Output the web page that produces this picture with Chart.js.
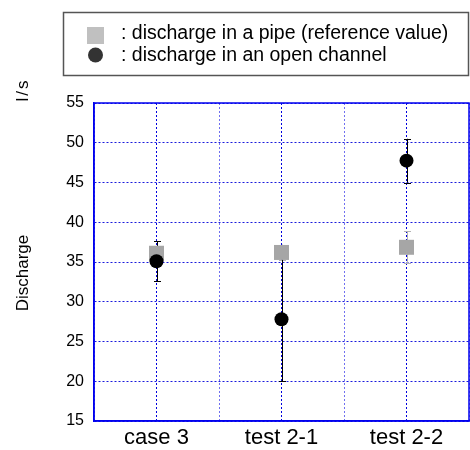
<!DOCTYPE html>
<html>
<head>
<meta charset="utf-8">
<script src="https://cdn.jsdelivr.net/npm/chart.js"></script>
<style>
html,body{margin:0;padding:0;background:#fff;}
#wrap{width:470px;height:450px;}
</style>
</head>
<body>
<div id="wrap"><canvas id="c" width="470" height="450"></canvas></div>
<script>
const categories = ["case 3", "test 2-1", "test 2-2"];
const pipeValues = [36.1, 36.2, 36.85];
const pipeErrors = [1.5, 1.0, 2.0];
const channelValues = [35.1, 27.8, 47.75];
const channelErrors = [2.5, 7.8, 2.75];
const yTicks = [15, 20, 25, 30, 35, 40, 45, 50, 55];
const legendLabels = [": discharge in a pipe (reference value)", ": discharge in an open channel"];
const yTitle = "Discharge";
const yUnit = "l/s";

const FONT = "'Liberation Sans', Arial, sans-serif";

const errorBarPlugin = {
  id: 'errorBars',
  beforeDatasetsDraw(chart) {
    const ctx = chart.ctx;
    const xs = chart.scales.x, ys = chart.scales.y;
    const sets = [
      {vals: pipeValues, errs: pipeErrors, color: '#b4b4b4'},
      {vals: channelValues, errs: channelErrors, color: '#000000'}
    ];
    ctx.save();
    sets.forEach(s => {
      ctx.strokeStyle = s.color;
      ctx.lineWidth = 1;
      s.vals.forEach((v, i) => {
        const x = Math.round(xs.getPixelForValue(i)) + 0.5;
        const y1 = ys.getPixelForValue(v + s.errs[i]);
        const y2 = ys.getPixelForValue(v - s.errs[i]);
        ctx.beginPath();
        ctx.moveTo(x, y1); ctx.lineTo(x, y2);
        ctx.moveTo(x - 3.5, Math.round(y1) + 0.5); ctx.lineTo(x + 3.5, Math.round(y1) + 0.5);
        ctx.moveTo(x - 3.5, Math.round(y2) + 0.5); ctx.lineTo(x + 3.5, Math.round(y2) + 0.5);
        ctx.stroke();
      });
    });
    ctx.restore();
  },
  afterDraw(chart) {
    const ctx = chart.ctx;
    const a = chart.chartArea;
    ctx.save();
    // frame
    ctx.strokeStyle = '#0000ee';
    ctx.lineWidth = 1.5;
    ctx.strokeRect(a.left, a.top, a.right - a.left, a.bottom - a.top);
    // legend box
    ctx.strokeStyle = '#555555';
    ctx.lineWidth = 1.5;
    ctx.strokeRect(63.5, 12.5, 405, 63);
    ctx.fillStyle = '#c0c0c0';
    ctx.fillRect(87, 27, 17, 17);
    ctx.fillStyle = '#333333';
    ctx.beginPath();
    ctx.arc(95.5, 55, 7.5, 0, Math.PI * 2);
    ctx.fill();
    ctx.fillStyle = '#000';
    ctx.font = '19.5px ' + FONT;
    ctx.textBaseline = 'alphabetic';
    ctx.textAlign = 'left';
    ctx.fillText(legendLabels[0], 121, 39);
    ctx.fillText(legendLabels[1], 121, 61);
    // y titles
    ctx.font = '17px ' + FONT;
    ctx.textAlign = 'center';
    ctx.save();
    ctx.translate(28, 90);
    ctx.rotate(-Math.PI / 2);
    try { ctx.letterSpacing = '2px'; } catch (e) {}
    ctx.fillText(yUnit, 0, 0);
    ctx.restore();
    ctx.save();
    ctx.translate(28, 273);
    ctx.rotate(-Math.PI / 2);
    ctx.fillText(yTitle, 0, 0);
    ctx.restore();
    ctx.restore();
  }
};

new Chart(document.getElementById('c'), {
  type: 'scatter',
  data: {
    datasets: [
      {
        label: legendLabels[1],
        data: channelValues.map((v, i) => ({x: i, y: v})),
        pointStyle: 'circle',
        pointRadius: 7,
        pointHoverRadius: 7,
        backgroundColor: '#000000',
        borderColor: '#000000',
        borderWidth: 0,
        order: 0
      },
      {
        label: legendLabels[0],
        data: pipeValues.map((v, i) => ({x: i, y: v})),
        pointStyle: 'rect',
        pointRadius: 10.6,
        pointHoverRadius: 10.6,
        backgroundColor: '#a6a6a6',
        borderColor: '#a6a6a6',
        borderWidth: 0,
        order: 1
      }
    ]
  },
  options: {
    responsive: false,
    animation: false,
    events: [],
    layout: {autoPadding: false, padding: {top: 103, right: 1, left: 0, bottom: 0}},
    plugins: {legend: {display: false}, tooltip: {enabled: false}},
    scales: {
      x: {
        type: 'linear',
        min: -0.5,
        max: 2.5,
        afterFit(scale) { scale.height = 29; scale.paddingRight = 0; scale.paddingLeft = 0; },
        afterBuildTicks(scale) {
          const t = [];
          for (let k = -1; k <= 5; k++) t.push({value: k / 2});
          scale.ticks = t;
        },
        ticks: {
          autoSkip: false,
          maxRotation: 0,
          padding: 4,
          color: '#000',
          font: {family: FONT, size: 22},
          callback(v) { return Number.isInteger(v) ? categories[v] : ''; }
        },
        grid: {
          drawTicks: false,
          lineWidth: 1,
          color(ctx) {
            const v = ctx.tick ? ctx.tick.value : 0;
            return Number.isInteger(v) ? '#0000dd' : '#7070f0';
          }
        },
        border: {display: true, color: '#0000ee', width: 1.5, dash: [2, 2]}
      },
      y: {
        min: 15,
        max: 55,
        afterFit(scale) { scale.width = 94; },
        afterBuildTicks(scale) { scale.ticks = yTicks.map(v => ({value: v})); },
        ticks: {
          padding: 10,
          color: '#000',
          font: {family: FONT, size: 16}
        },
        grid: {drawTicks: false, color: '#1a1add', lineWidth: 1},
        border: {display: true, color: '#0000ee', width: 1.5, dash: [2, 2]}
      }
    }
  },
  plugins: [errorBarPlugin]
});
</script>
</body>
</html>
